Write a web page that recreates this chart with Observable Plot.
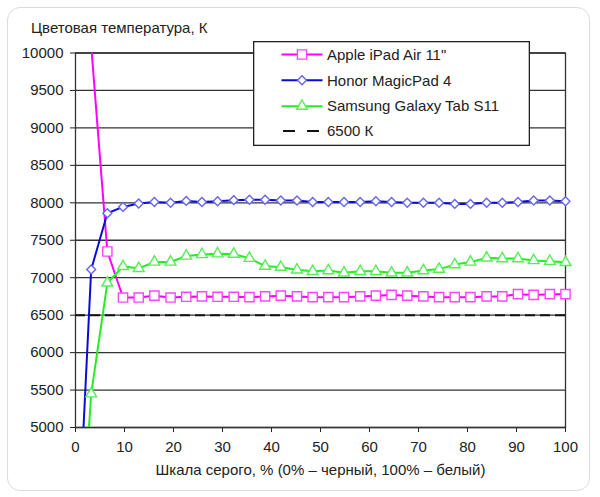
<!DOCTYPE html>
<html>
<head>
<meta charset="utf-8">
<script src="https://cdn.jsdelivr.net/npm/d3@7"></script>
<script src="https://cdn.jsdelivr.net/npm/@observablehq/plot@0.6"></script>
<style>
  html, body { margin: 0; padding: 0; background: #fff; }
  #wrap { position: relative; width: 600px; height: 497px; font-family: "Liberation Sans", Arial, sans-serif; color: #222; }
  #border { position: absolute; left: 7px; top: 7px; width: 583px; height: 484px; box-sizing: border-box; border: 1.5px solid #d9dce6; border-radius: 13px; }
  #title { position: absolute; left: 31px; top: 19px; font-size: 15px; line-height: 18px; white-space: nowrap; }
  #chart { position: absolute; left: 0; top: 0; }
  #legend { position: absolute; left: 253px; top: 40.5px; }
</style>
</head>
<body>
<div id="wrap">
  <div id="border"></div>
  <div id="chart"></div>
  <div id="title">Цветовая температура, К</div>
  <div id="legend"></div>
</div>
<script>
// ---- data ----
const grayLevels = [0, 3.2, 6.5, 9.7, 12.9, 16.1, 19.4, 22.6, 25.8, 29.0, 32.3, 35.5, 38.7, 41.9, 45.2, 48.4,
                    51.6, 54.8, 58.1, 61.3, 64.5, 67.7, 71.0, 74.2, 77.4, 80.6, 83.9, 87.1, 90.3, 93.5, 96.8, 100];
const appleIpadAir = [null, 10100, 7350, 6735, 6735, 6760, 6735, 6745, 6750, 6745, 6745, 6740, 6750, 6760, 6750, 6740,
                      6740, 6740, 6750, 6760, 6770, 6760, 6750, 6740, 6740, 6740, 6750, 6750, 6780, 6770, 6780, 6780];
const honorMagicPad = [2800, 7110, 7860, 7945, 7990, 8010, 8000, 8025, 8010, 8020, 8035, 8040, 8040, 8030, 8030, 8010,
                       8010, 8010, 8010, 8020, 8010, 8000, 8000, 8000, 7985, 7985, 8000, 8000, 8010, 8030, 8030, 8020];
const samsungTab = [2200, 5450, 6930, 7150, 7125, 7210, 7210, 7290, 7310, 7320, 7315, 7260, 7155, 7140, 7105, 7085,
                    7095, 7065, 7085, 7085, 7065, 7065, 7095, 7115, 7175, 7210, 7265, 7255, 7255, 7230, 7220, 7205];
const referenceK = [6500];
const seriesNames = ["Apple iPad Air 11\"", "Honor MagicPad 4", "Samsung Galaxy Tab S11", "6500 К"];
const xTicks = [0, 10, 20, 30, 40, 50, 60, 70, 80, 90, 100];
const yTicks = [5000, 5500, 6000, 6500, 7000, 7500, 8000, 8500, 9000, 9500, 10000];
const xLabel = "Шкала серого, % (0% – черный, 100% – белый)";

// ---- styles ----
const styles = [
  {line: "#ff00ff", marker: "#ff44ff", symbol: "square", r: 5.2},
  {line: "#0a0ad8", marker: "#6666f2", symbol: "diamond2", r: 4},
  {line: "#22ee22", marker: "#55ee55", symbol: "triangle", r: 4}
];
const valuesList = [appleIpadAir, honorMagicPad, samsungTab];
const yMin = yTicks[0], yMax = yTicks[yTicks.length - 1];

const seriesMarks = [];
valuesList.forEach((vals, k) => {
  const rows = grayLevels.map((x, i) => ({x, y: vals[i]}));
  const st = styles[k];
  seriesMarks.push(Plot.line(rows, {x: "x", y: "y", stroke: st.line, strokeWidth: 2, clip: "frame"}));
  seriesMarks.push(Plot.dot(rows.filter(d => d.y != null && d.y >= yMin && d.y <= yMax),
    {x: "x", y: "y", symbol: st.symbol, r: st.r, fill: "white", stroke: st.marker, strokeWidth: 1.4}));
});

const chart = Plot.plot({
  width: 600,
  height: 497,
  marginLeft: 75,
  marginRight: 35,
  marginTop: 52.5,
  marginBottom: 70,
  style: {fontFamily: "'Liberation Sans', Arial, sans-serif", fontSize: "15px", color: "#222", background: "transparent"},
  x: {domain: [0, 100], ticks: xTicks, tickSize: 5, tickPadding: 9, label: xLabel, labelAnchor: "center", labelArrow: "none", labelOffset: 47},
  y: {domain: [yMin, yMax], ticks: yTicks, tickSize: 5, tickPadding: 7, label: null, tickFormat: d3.format("d")},
  marks: [
    Plot.ruleY(yTicks, {stroke: "#333", strokeWidth: 1.3}),
    Plot.frame({stroke: "#333", strokeWidth: 1.3}),
    Plot.ruleY(referenceK, {stroke: "#111", strokeWidth: 2, strokeDasharray: "10,5"}),
    ...seriesMarks
  ]
});
document.getElementById("chart").appendChild(chart);

// ---- legend ----
const lw = 277, lh = 105;
const leg = d3.select("#legend").append("svg").attr("width", lw).attr("height", lh)
  .style("font-family", "'Liberation Sans', Arial, sans-serif").style("font-size", "15px");
leg.append("rect").attr("x", 0.65).attr("y", 0.65).attr("width", lw - 1.3).attr("height", lh - 1.3)
  .attr("fill", "white").attr("stroke", "#222").attr("stroke-width", 1.3);
const rowY = [13.5, 39.3, 65.2, 90];
const symMap = {square: d3.symbolSquare, diamond2: d3.symbolDiamond2, triangle: d3.symbolTriangle};
seriesNames.forEach((name, k) => {
  const g = leg.append("g").attr("transform", `translate(0,${rowY[k]})`);
  if (k < 3) {
    const st = styles[k];
    g.append("line").attr("x1", 28.5).attr("x2", 69.5).attr("y1", 0).attr("y2", 0)
      .attr("stroke", st.line).attr("stroke-width", 2);
    g.append("path").attr("transform", "translate(49,0)")
      .attr("d", d3.symbol(symMap[st.symbol], Math.PI * st.r * st.r)())
      .attr("fill", "white").attr("stroke", st.marker).attr("stroke-width", 1.4);
  } else {
    g.append("line").attr("x1", 30).attr("x2", 66).attr("y1", 0).attr("y2", 0)
      .attr("stroke", "#111").attr("stroke-width", 2).attr("stroke-dasharray", "12,12");
  }
  g.append("text").attr("x", 74).attr("y", 0).attr("dy", "0.35em").attr("fill", "#222").text(name);
});
</script>
</body>
</html>
